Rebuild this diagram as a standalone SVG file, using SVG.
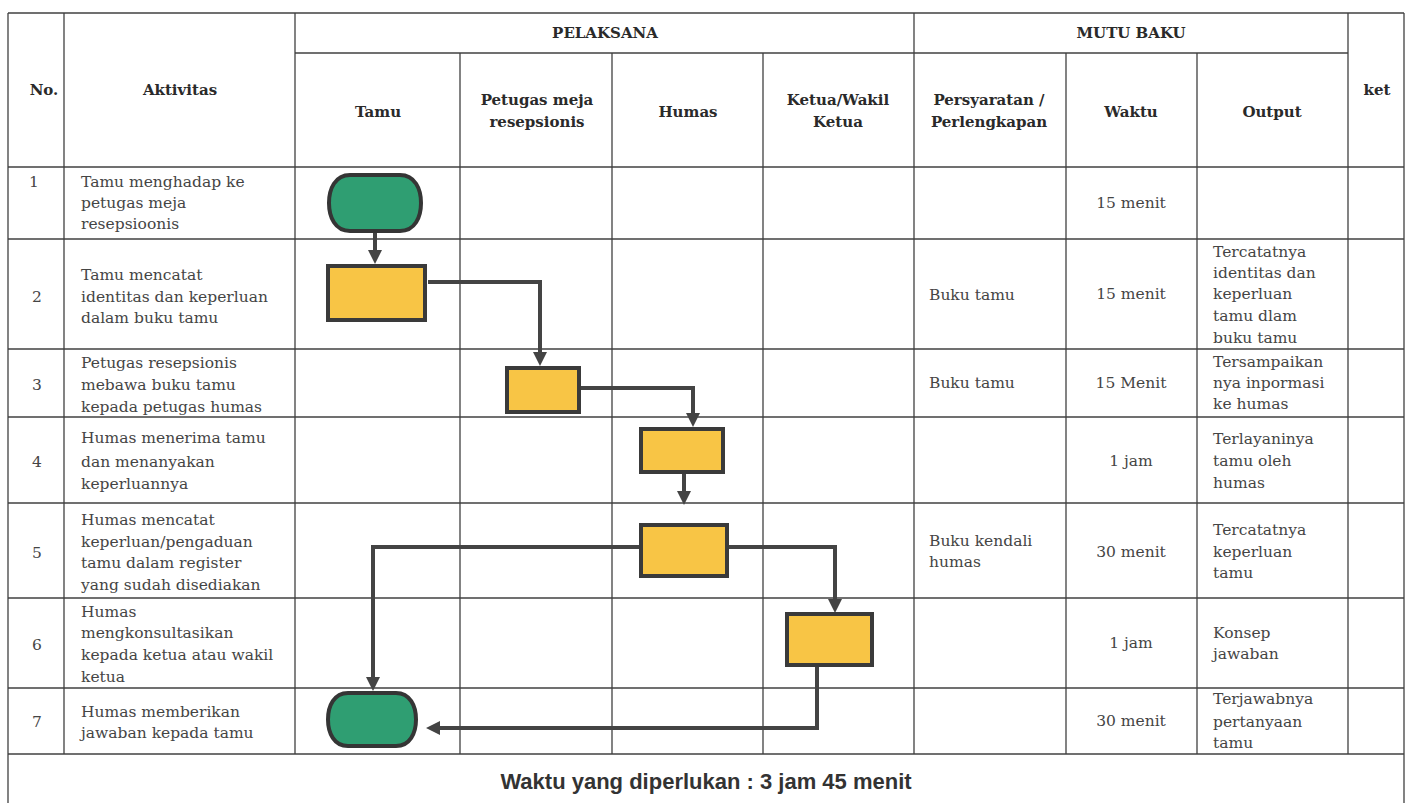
<svg xmlns="http://www.w3.org/2000/svg" width="1410" height="803" viewBox="0 0 1410 803">
<style>
.grid line{stroke:#404040;stroke-width:1.3}
.h{font-family:"DejaVu Serif","Liberation Serif",serif;font-size:15px;font-weight:bold;fill:#2a2a2a;text-anchor:middle}
.t{font-family:"DejaVu Serif","Liberation Serif",serif;font-size:15.5px;fill:#454545}
.c{text-anchor:middle}
.term{fill:#2f9e72;stroke:#353535;stroke-width:4}
.proc{fill:#f8c545;stroke:#3a3a3a;stroke-width:4}
.conn path{fill:none;stroke:#444;stroke-width:4}
.foot{font-family:"Liberation Sans",Arial,sans-serif;font-size:22px;font-weight:bold;fill:#333;text-anchor:middle}
</style>
<defs>
<marker id="ah" markerUnits="userSpaceOnUse" markerWidth="16" markerHeight="16" refX="9" refY="7" orient="auto">
<path d="M0,0 L14,7 L0,14 z" fill="#444"/>
</marker>
</defs>
<rect width="1410" height="803" fill="#fff"/>
<g class="grid" id="table">
<line x1="8" y1="13" x2="1404" y2="13"/>
<line x1="295" y1="53" x2="1348" y2="53"/>
<line x1="8" y1="167" x2="1404" y2="167"/>
<line x1="8" y1="239" x2="1404" y2="239"/>
<line x1="8" y1="349" x2="1404" y2="349"/>
<line x1="8" y1="417" x2="1404" y2="417"/>
<line x1="8" y1="503" x2="1404" y2="503"/>
<line x1="8" y1="598" x2="1404" y2="598"/>
<line x1="8" y1="688" x2="1404" y2="688"/>
<line x1="8" y1="754" x2="1404" y2="754"/>
<line x1="8" y1="13" x2="8" y2="803"/>
<line x1="64" y1="13" x2="64" y2="754"/>
<line x1="295" y1="13" x2="295" y2="754"/>
<line x1="460" y1="53" x2="460" y2="754"/>
<line x1="612" y1="53" x2="612" y2="754"/>
<line x1="763" y1="53" x2="763" y2="754"/>
<line x1="914" y1="13" x2="914" y2="754"/>
<line x1="1066" y1="53" x2="1066" y2="754"/>
<line x1="1197" y1="53" x2="1197" y2="754"/>
<line x1="1348" y1="13" x2="1348" y2="754"/>
<line x1="1404" y1="13" x2="1404" y2="803"/>
</g>
<g id="headers">
<text class="h" x="44" y="95">No.</text>
<text class="h" x="180" y="95">Aktivitas</text>
<text class="h" x="605" y="38">PELAKSANA</text>
<text class="h" x="1131" y="38">MUTU BAKU</text>
<text class="h" x="378" y="117">Tamu</text>
<text class="h" x="537" y="105">Petugas meja</text>
<text class="h" x="537" y="127">resepsionis</text>
<text class="h" x="688" y="117">Humas</text>
<text class="h" x="838" y="105">Ketua/Wakil</text>
<text class="h" x="838" y="127">Ketua</text>
<text class="h" x="989" y="105">Persyaratan /</text>
<text class="h" x="989" y="127">Perlengkapan</text>
<text class="h" x="1131" y="117">Waktu</text>
<text class="h" x="1272" y="117">Output</text>
<text class="h" x="1377" y="95">ket</text>
</g>
<g id="col-no">
<text class="t" x="29" y="187">1</text>
<text class="t c" x="37" y="302">2</text>
<text class="t c" x="37" y="390">3</text>
<text class="t c" x="37" y="467">4</text>
<text class="t c" x="37" y="558">5</text>
<text class="t c" x="37" y="650">6</text>
<text class="t c" x="37" y="727">7</text>
</g>
<g id="col-aktivitas">
<text class="t" x="81" y="187">Tamu menghadap ke</text>
<text class="t" x="81" y="208">petugas meja</text>
<text class="t" x="81" y="229">resepsioonis</text>
<text class="t" x="81" y="280">Tamu mencatat</text>
<text class="t" x="81" y="302">identitas dan keperluan</text>
<text class="t" x="81" y="323">dalam buku tamu</text>
<text class="t" x="81" y="368">Petugas resepsionis</text>
<text class="t" x="81" y="390">mebawa buku tamu</text>
<text class="t" x="81" y="412">kepada petugas humas</text>
<text class="t" x="81" y="443">Humas menerima tamu</text>
<text class="t" x="81" y="467">dan menanyakan</text>
<text class="t" x="81" y="489">keperluannya</text>
<text class="t" x="81" y="525">Humas mencatat</text>
<text class="t" x="81" y="547">keperluan/pengaduan</text>
<text class="t" x="81" y="568">tamu dalam register</text>
<text class="t" x="81" y="590">yang sudah disediakan</text>
<text class="t" x="81" y="617">Humas</text>
<text class="t" x="81" y="638">mengkonsultasikan</text>
<text class="t" x="81" y="660">kepada ketua atau wakil</text>
<text class="t" x="81" y="682">ketua</text>
<text class="t" x="81" y="717">Humas memberikan</text>
<text class="t" x="81" y="738">jawaban kepada tamu</text>
</g>
<g id="col-persyaratan">
<text class="t" x="929" y="300">Buku tamu</text>
<text class="t" x="929" y="388">Buku tamu</text>
<text class="t" x="929" y="546">Buku kendali</text>
<text class="t" x="929" y="567">humas</text>
</g>
<g id="col-waktu">
<text class="t c" x="1131" y="208">15 menit</text>
<text class="t c" x="1131" y="299">15 menit</text>
<text class="t c" x="1131" y="388">15 Menit</text>
<text class="t c" x="1131" y="466">1 jam</text>
<text class="t c" x="1131" y="557">30 menit</text>
<text class="t c" x="1131" y="648">1 jam</text>
<text class="t c" x="1131" y="726">30 menit</text>
</g>
<g id="col-output">
<text class="t" x="1213" y="257">Tercatatnya</text>
<text class="t" x="1213" y="278">identitas dan</text>
<text class="t" x="1213" y="299">keperluan</text>
<text class="t" x="1213" y="321">tamu dlam</text>
<text class="t" x="1213" y="343">buku tamu</text>
<text class="t" x="1213" y="367">Tersampaikan</text>
<text class="t" x="1213" y="388">nya inpormasi</text>
<text class="t" x="1213" y="409">ke humas</text>
<text class="t" x="1213" y="444">Terlayaninya</text>
<text class="t" x="1213" y="466">tamu oleh</text>
<text class="t" x="1213" y="488">humas</text>
<text class="t" x="1213" y="535">Tercatatnya</text>
<text class="t" x="1213" y="557">keperluan</text>
<text class="t" x="1213" y="578">tamu</text>
<text class="t" x="1213" y="638">Konsep</text>
<text class="t" x="1213" y="659">jawaban</text>
<text class="t" x="1213" y="704">Terjawabnya</text>
<text class="t" x="1213" y="727">pertanyaan</text>
<text class="t" x="1213" y="748">tamu</text>
</g>
<g id="connectors" class="conn">
<path d="M375,231 V259" marker-end="url(#ah)"/>
<path d="M428,282 H540 V361" marker-end="url(#ah)"/>
<path d="M581,388 H693 V422" marker-end="url(#ah)"/>
<path d="M684,474 V500" marker-end="url(#ah)"/>
<path d="M639,547 H373 V686" marker-end="url(#ah)"/>
<path d="M729,547 H835 V608" marker-end="url(#ah)"/>
<path d="M817,667 V728 H431" marker-end="url(#ah)"/>
</g>
<g id="n1"><path class="term" d="M350,175 H400 C415,175 421,189 421,203 C421,217 415,231 400,231 H350 C335,231 329,217 329,203 C329,189 335,175 350,175 Z"/></g>
<g id="n2"><rect class="proc" x="328" y="266" width="97" height="54"/></g>
<g id="n3"><rect class="proc" x="507" y="368" width="72" height="44"/></g>
<g id="n4"><rect class="proc" x="641" y="429" width="82" height="43"/></g>
<g id="n5"><rect class="proc" x="641" y="525" width="86" height="51"/></g>
<g id="n6"><rect class="proc" x="787" y="614" width="85" height="51"/></g>
<g id="n7"><path class="term" d="M348,693 H396 C410,693 416,706 416,719.5 C416,733 410,746 396,746 H348 C334,746 328,733 328,719.5 C328,706 334,693 348,693 Z"/></g>
<text class="foot" x="706" y="789">Waktu yang diperlukan : 3 jam 45 menit</text>
</svg>
